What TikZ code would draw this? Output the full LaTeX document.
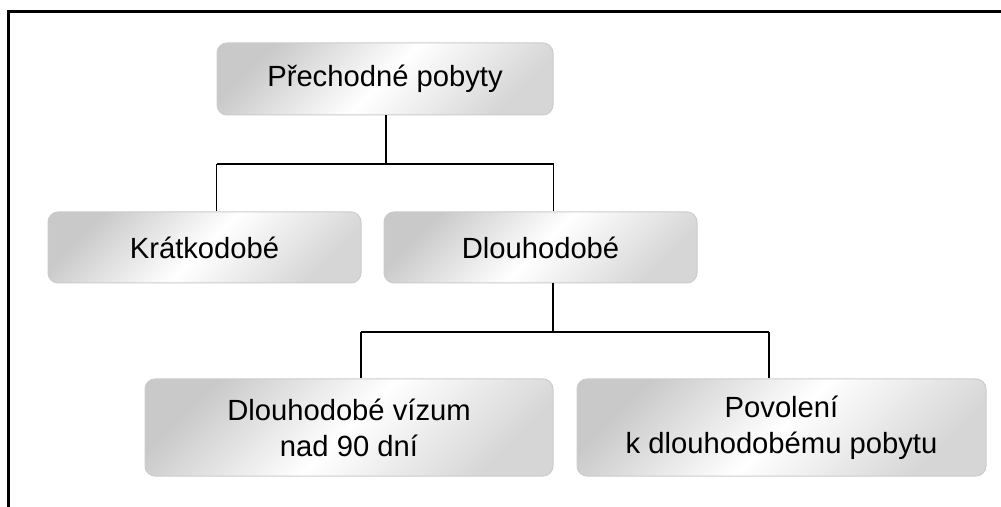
\documentclass[tikz,border=0pt]{standalone}
\usepackage{fontspec}
\setmainfont{Liberation Sans}
\usepackage{tikz}
\tikzset{
    blok/.style={
        draw=gray!40,
        line width=0.5pt,
        rounded corners=5pt,
        top color=gray!42,
        bottom color=gray!32,
        middle color=white,
        shading angle=45,
        align=center,
        inner sep=0pt,
        font=\fontsize{14.6}{18}\selectfont
    },
    spoj/.style={
        line width=0.9pt
    }
}

\begin{document}
\begin{tikzpicture}[x=0.5pt,y=-0.5pt]
		\useasboundingbox (0,0) rectangle (1001,507);

		% Frame
		\draw[line width=1.5pt] (1001,12) -- (8,12) -- (8,507);

		% Boxes
		\node[blok, minimum width=168pt, minimum height=36pt] (prechodne) at (385,79) {Přechodné pobyty};
		\node[blok, minimum width=156.5pt, minimum height=35.5pt] (kratko) at (204.5,247.5) {Krátkodobé};
		\node[blok, minimum width=156.5pt, minimum height=35.5pt] (dlouho) at (540.5,247.5) {Dlouhodobé};
		\node[blok, minimum width=204pt, minimum height=48.5pt] (vizum) at (349,427.5) {Dlouhodobé vízum\\nad 90 dní};
		\node[blok, minimum width=204.5pt, minimum height=48.5pt] (povoleni) at (781.5,427.5) {Povolení\\k dlouhodobému pobytu};

		% First level
		\coordinate (r1) at (386,164);
		\draw[spoj] (prechodne.south -| r1) -- (r1);
		\draw[spoj] (prechodne.south west |- r1) -- (prechodne.south east |- r1);
		\draw[spoj] (prechodne.south west |- r1) -- (prechodne.south west |- kratko.north);
		\draw[spoj] (prechodne.south east |- r1) -- (prechodne.south east |- dlouho.north);

		% Second level
		\coordinate (r2) at (553,332);
		\coordinate (a2) at (361,332);
		\coordinate (b2) at (769,332);
		\draw[spoj] (dlouho.south -| r2) -- (r2);
		\draw[spoj] (a2) -- (b2);
		\draw[spoj] (a2) -- (a2 |- vizum.north);
		\draw[spoj] (b2) -- (b2 |- povoleni.north);

	\end{tikzpicture}
\end{document}
